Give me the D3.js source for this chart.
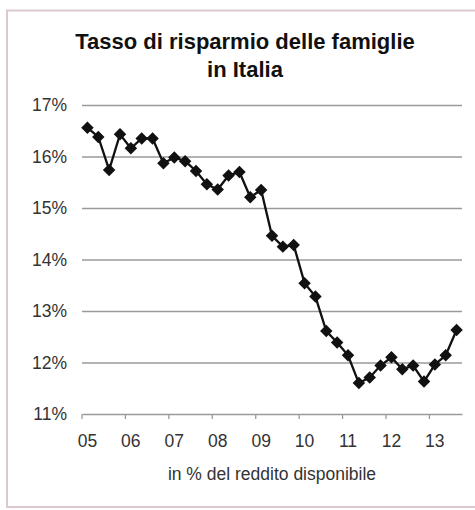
<!DOCTYPE html>
<html>
<head>
<meta charset="utf-8">
<script src="https://cdn.jsdelivr.net/npm/d3@7"></script>
<style>
  html, body { margin: 0; padding: 0; background: #fff; }
  svg { display: block; font-family: "Liberation Sans", Arial, sans-serif; }
</style>
</head>
<body>
<svg id="chart" width="475" height="510"></svg>
<script>
// Quarterly household saving rate, Italy, 2005 Q1 – 2013 Q3 (% of disposable income)
const quarters = [
  "05Q1","05Q2","05Q3","05Q4",
  "06Q1","06Q2","06Q3","06Q4",
  "07Q1","07Q2","07Q3","07Q4",
  "08Q1","08Q2","08Q3","08Q4",
  "09Q1","09Q2","09Q3","09Q4",
  "10Q1","10Q2","10Q3","10Q4",
  "11Q1","11Q2","11Q3","11Q4",
  "12Q1","12Q2","12Q3","12Q4",
  "13Q1","13Q2","13Q3"
];
const savingRate = [
  16.56, 16.38, 15.74, 16.43,
  16.16, 16.35, 16.35, 15.87,
  15.98, 15.91, 15.72, 15.46,
  15.36, 15.63, 15.70, 15.21,
  15.35, 14.46, 14.25, 14.28,
  13.54, 13.28, 12.61, 12.39,
  12.14, 11.60, 11.71, 11.94,
  12.10, 11.87, 11.94, 11.63,
  11.96, 12.14, 12.63
];
const yearLabels = ["05","06","07","08","09","10","11","12","13"];
const yTicks = [11, 12, 13, 14, 15, 16, 17];
const titleLines = ["Tasso di risparmio delle famiglie", "in Italia"];
const axisNote = "in % del reddito disponibile";

const svg = d3.select("#chart");

// outer frame
svg.append("rect")
  .attr("x", 7).attr("y", 10.5)
  .attr("width", 480).attr("height", 496.5)
  .attr("fill", "none")
  .attr("stroke", "#dcc9cf")
  .attr("stroke-width", 2);

const plot = { left: 82, right: 462, top: 105, bottom: 414 };

const x = d3.scaleBand()
  .domain(quarters)
  .range([plot.left, plot.right])
  .padding(0);

const y = d3.scaleLinear()
  .domain([11, 17])
  .range([plot.bottom, plot.top]);

// title
svg.append("g").selectAll("text")
  .data(titleLines)
  .join("text")
  .attr("x", 245)
  .attr("y", (d, i) => 48.5 + i * 28.5)
  .attr("text-anchor", "middle")
  .attr("font-size", 22)
  .attr("font-weight", "bold")
  .attr("fill", "#111")
  .text(d => d);

// horizontal gridlines + y labels
const yAxis = svg.append("g")
  .attr("transform", `translate(${plot.left},0)`)
  .call(d3.axisLeft(y)
    .tickValues(yTicks.slice(1))
    .tickSize(-(plot.right - plot.left))
    .tickFormat(d => d + "%"));
yAxis.select(".domain").remove();
yAxis.selectAll(".tick line")
  .attr("stroke", "#9a9a9a")
  .attr("stroke-width", 1.6);
yAxis.selectAll(".tick text")
  .attr("x", -15)
  .attr("font-size", 17.5)
  .attr("fill", "#333");

// label for the 11% baseline (its line is the category axis)
const baseLabel = svg.append("g")
  .attr("transform", `translate(${plot.left},0)`)
  .call(d3.axisLeft(y).tickValues([yTicks[0]]).tickSize(0).tickFormat(d => d + "%"));
baseLabel.select(".domain").remove();
baseLabel.selectAll(".tick text")
  .attr("x", -15)
  .attr("font-size", 17.5)
  .attr("fill", "#333");

// category axis: year labels under each Q1, tick marks at year boundaries
const yearStarts = quarters.filter(q => q.endsWith("Q1"));
const xAxis = svg.append("g")
  .attr("transform", `translate(0,${plot.bottom})`)
  .call(d3.axisBottom(x)
    .tickValues(yearStarts)
    .tickSize(0)
    .tickFormat((d, i) => yearLabels[i]));
xAxis.select(".domain")
  .attr("stroke", "#9a9a9a")
  .attr("stroke-width", 1.6);
xAxis.selectAll(".tick text")
  .attr("y", 21)
  .attr("font-size", 17.5)
  .attr("fill", "#333");
xAxis.selectAll(".tick")
  .append("line")
  .attr("x1", -x.step() / 2).attr("x2", -x.step() / 2)
  .attr("y1", 0).attr("y2", 5)
  .attr("stroke", "#9a9a9a")
  .attr("stroke-width", 1.3);

// axis note
svg.append("text")
  .attr("x", (plot.left + plot.right) / 2)
  .attr("y", 480)
  .attr("text-anchor", "middle")
  .attr("font-size", 17.5)
  .attr("fill", "#333")
  .text(axisNote);

// series line
const cx = (d, i) => x(quarters[i]) + x.bandwidth() / 2;
const line = d3.line()
  .x(cx)
  .y(d => y(d));

svg.append("path")
  .datum(savingRate)
  .attr("d", line)
  .attr("fill", "none")
  .attr("stroke", "#111")
  .attr("stroke-width", 2.3);

// diamond markers
const diamond = d3.symbol().type(d3.symbolSquare).size(78);
svg.append("g").selectAll("path")
  .data(savingRate)
  .join("path")
  .attr("d", diamond)
  .attr("transform", (d, i) => `translate(${cx(d, i)},${y(d)}) rotate(45)`)
  .attr("fill", "#111");
</script>
</body>
</html>
